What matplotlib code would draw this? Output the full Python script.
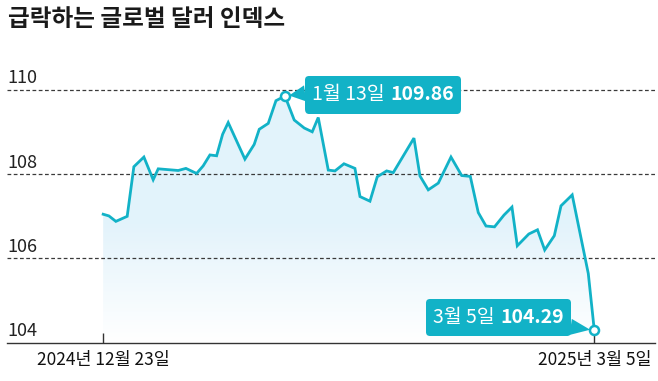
import matplotlib
matplotlib.use("Agg")
import matplotlib.pyplot as plt
import matplotlib.transforms as mtransforms
import numpy as np
from matplotlib.patches import Polygon
from matplotlib.offsetbox import TextArea, HPacker, DrawingArea, AnnotationBbox

plt.rcParams['font.family'] = ['Noto Sans CJK KR', 'DejaVu Sans']

title = "급락하는 글로벌 달러 인덱스"

# position along the time axis: 0 = 2024-12-23, 72 = 2025-03-05
pos = [0, 0.84, 1.86, 3.52, 4.5, 5.97, 7.33, 8.07, 11.0, 12.13, 13.7, 14.66,
       15.65, 16.63, 17.51, 18.33, 20.78, 22.14, 22.88, 24.2, 25.33, 26.65,
       28.01, 29.48, 30.65, 31.53, 33.0, 33.98, 35.3, 36.91, 37.65, 39.11,
       40.18, 41.56, 42.53, 45.56, 46.44, 47.66, 49.13, 50.99, 52.56, 53.82,
       54.99, 56.12, 57.37, 58.76, 59.93, 60.71, 62.4, 63.67, 64.73, 66.14,
       67.12, 68.76, 71.12, 72.0]
dxy = [107.05, 107.01, 106.88, 107.0, 108.18, 108.41, 107.87, 108.13, 108.09,
       108.14, 108.02, 108.2, 108.46, 108.44, 108.95, 109.23, 108.36, 108.71,
       109.07, 109.21, 109.75, 109.86, 109.29, 109.1, 109.01, 109.35, 108.1,
       108.08, 108.25, 108.14, 107.47, 107.36, 107.94, 108.08, 108.04, 108.86,
       107.96, 107.63, 107.79, 108.41, 107.97, 107.95, 107.09, 106.77, 106.75,
       107.03, 107.22, 106.3, 106.58, 106.68, 106.2, 106.54, 107.25, 107.51,
       105.64, 104.29]

xtick_pos = [0, 72]
xtick_labels = ["2024년 12월 23일", "2025년 3월 5일"]
yticks = [104, 106, 108, 110]

peak_i = 21
peak_text = ("1월 13일", "109.86")
last_text = ("3월 5일", "104.29")

teal = '#12b2c7'

fig = plt.figure(figsize=(6.58, 3.81), dpi=100)
ax = fig.add_axes([7/658, 38.5/381, 648/658, 280.5/381])
ax.set_xlim(-14.1, 80.9)
ax.set_ylim(104, 110.67)

# gradient fill under the line: flat light blue above ~107, fading to white at the base
top = np.array([0.89, 0.953, 0.985])
lev = np.linspace(104, 110, 256)
t = np.clip((lev - 104) / 2.8, 0, 1).reshape(-1, 1, 1)
img = (1 - t) * np.ones(3) + t * top
im = ax.imshow(img, extent=[pos[0], pos[-1], 104, 110], origin='lower',
               aspect='auto', zorder=1)
verts = [(pos[0], 104)] + list(zip(pos, dxy)) + [(pos[-1], 104)]
clip = Polygon(verts, closed=True, fc='none', ec='none')
ax.add_patch(clip)
im.set_clip_path(clip)

# dashed gridlines
for v in yticks[1:]:
    ax.axhline(v, color='#3a3a3a', lw=0.9, ls=(0, (3, 2)), zorder=2)

ax.plot(pos, dxy, color=teal, lw=2.0, zorder=3, solid_joinstyle='miter')
ax.plot([pos[peak_i], pos[-1]], [dxy[peak_i], dxy[-1]], 'o', ms=6.5,
        mfc='white', mec=teal, mew=1.8, zorder=4)

# y labels sit above the gridlines
trans = (mtransforms.blended_transform_factory(ax.transAxes, ax.transData)
         + mtransforms.ScaledTranslation(0, 2/72, fig.dpi_scale_trans))
for v in yticks:
    ax.text(0.0, v, str(v), transform=trans, ha='left', va='bottom',
            fontsize=13, color='#222222')

for s in ['left', 'right', 'top']:
    ax.spines[s].set_visible(False)
ax.spines['bottom'].set_color('#333333')
ax.spines['bottom'].set_linewidth(1.0)
ax.set_yticks([])
ax.set_xticks(xtick_pos, xtick_labels)
ax.tick_params(axis='x', direction='in', length=7, width=1, color='#333333',
               pad=6, labelsize=12.5, labelcolor='#111111')


def callout(i, texts, xybox, align, relpos):
    parts = HPacker(children=[
        DrawingArea(0, 17),
        TextArea(texts[0], textprops=dict(color='white', size=14)),
        DrawingArea(4, 0),
        TextArea(texts[1], textprops=dict(color='white', size=14, weight='bold'))],
        pad=0, sep=0, align='center')
    ab = AnnotationBbox(parts, (pos[i], dxy[i]), xybox=xybox, xycoords='data',
                        boxcoords='offset points', box_alignment=align,
                        fontsize=10,
                        bboxprops=dict(boxstyle='round,pad=0.5,rounding_size=0.3',
                                       fc=teal, ec='none'),
                        arrowprops=dict(arrowstyle='wedge,tail_width=0.6,shrink_factor=0.5',
                                        fc=teal, ec='none', relpos=relpos,
                                        shrinkA=0, shrinkB=3, mutation_scale=14),
                        zorder=5)
    ax.add_artist(ab)


callout(peak_i, peak_text, (19.5, 0.9), (0, 0.5), (0, 0.6))
callout(len(pos) - 1, last_text, (-22.0, 9.1), (1, 0.5), (1, 0.15))

fig.text(8/658, 1 - 7/381, title, fontsize=17, weight='bold',
         family='Noto Sans CJK KR', color='#1a1a1a', va='top', ha='left')

plt.savefig("out.png", dpi=100)
